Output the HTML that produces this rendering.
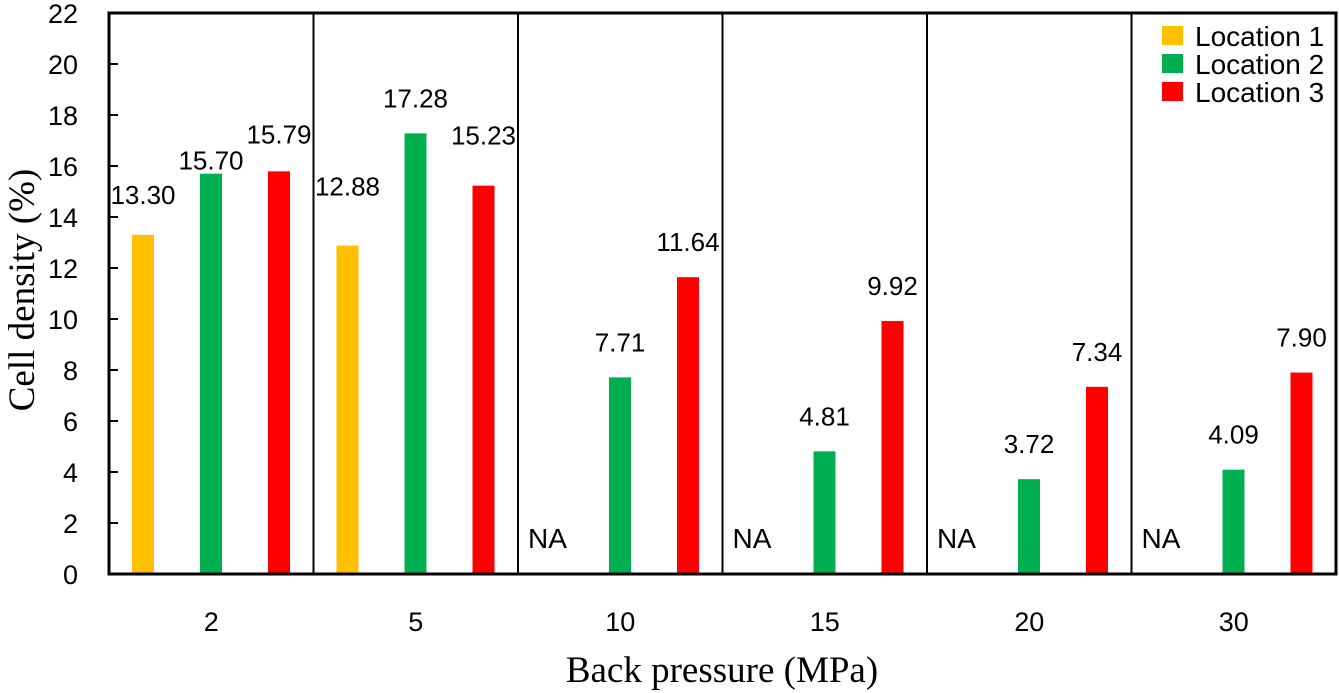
<!DOCTYPE html>
<html><head><meta charset="utf-8"><style>
body{margin:0;background:#fff}
svg{display:block}
text{font-family:"Liberation Sans",sans-serif}
text.serif{font-family:"Liberation Serif",serif}
</style></head><body>
<svg id="c" width="1339" height="693"></svg>
<script>
const categories=["2","5","10","15","20","30"];
const loc1=[13.30,12.88,null,null,null,null];
const loc2=[15.70,17.28,7.71,4.81,3.72,4.09];
const loc3=[15.79,15.23,11.64,9.92,7.34,7.90];
const yTicks=[0,2,4,6,8,10,12,14,16,18,20,22];
const seriesNames=["Location 1","Location 2","Location 3"];
const colors=["#FFC000","#00B050","#FF0000"];
const L=109,R=1336,T=13,B=574,yMax=22;
const gw=(R-L)/categories.length;
const y=v=>B-(v/yMax)*(B-T);
const svg=document.getElementById('c');
const NS='http://www.w3.org/2000/svg';
function mk(tag,at,txt){const e=document.createElementNS(NS,tag);for(const k in at)e.setAttribute(k,at[k]);if(txt!==undefined)e.textContent=txt;svg.appendChild(e);return e;}
const series=[loc1,loc2,loc3];
const offs=[34,102,170];
const gap=(i,j)=>({'0-0':31,'0-1':4,'0-2':28,'1-0':50,'1-2':41}[i+'-'+j]||26);
categories.forEach((c,i)=>{
  const gx=L+i*gw;
  series.forEach((s,j)=>{
    const v=s[i];const cx=gx+offs[j];
    if(v===null){
      const t=mk('text',{x:gx+10,y:B-26,'font-size':28,fill:'#000'},'NA');
      
      
      return;}
    const r=mk('rect',{x:cx-11,y:y(v),width:22,height:B-y(v),fill:colors[j]});
    
    
    const t=mk('text',{x:cx,y:y(v)-gap(i,j),'font-size':26,'text-anchor':'middle',fill:'#000'},v.toFixed(2));
    
    
  });
  const xl=mk('text',{x:gx+gw/2,y:631,'font-size':27,'text-anchor':'middle'},c);
  
  
  if(i>0){const d=mk('line',{x1:gx,x2:gx,y1:T,y2:B,stroke:'#000','stroke-width':2});
    
    }
});
yTicks.forEach(v=>{
  const tl=mk('line',{x1:L,x2:L+9,y1:y(v),y2:y(v),stroke:'#000','stroke-width':2});
  
  
  const t=mk('text',{x:78,y:y(v)+10,'font-size':27,'text-anchor':'end'},v);
  
  
});
const fr=mk('rect',{x:L,y:T,width:R-L,height:B-T,fill:'none',stroke:'#000','stroke-width':3});


seriesNames.forEach((n,j)=>{
  const ly=26+j*28;
  const s=mk('rect',{x:1162,y:ly,width:21,height:19,fill:colors[j]});
  
  
  const t=mk('text',{x:1195,y:ly+20,'font-size':28},n);
  
  
});
const xt=mk('text',{x:722,y:682,'font-size':37,'text-anchor':'middle','class':'serif'},'Back pressure (MPa)');


const yt=mk('text',{x:0,y:0,'font-size':37,'text-anchor':'middle','class':'serif',transform:'translate(34,290) rotate(-90)'},'Cell density (%)');


</script>
</body></html>
